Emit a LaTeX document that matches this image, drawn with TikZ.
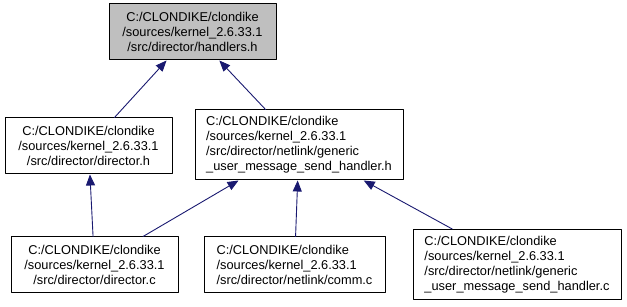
\documentclass[tikz,border=0pt]{standalone}
\usepackage{fontspec}
\setmainfont{Liberation Sans}
\usepackage{tikz}
\usetikzlibrary{arrows.meta}
\definecolor{EdgeBlue}{HTML}{191970}
\definecolor{FileGrey}{HTML}{BFBFBF}
\newcommand{\FileFont}{\fontsize{12.8}{15}\selectfont}

\begin{document}
\begin{tikzpicture}[line cap=round,line join=round,>={Triangle[length=11pt,width=9pt]}
  ,x=1pt,y=1pt
  ,file/.style={draw=black,line width=1pt,fill=white,inner sep=0pt
    ,minimum width=167pt,minimum height=56pt,font=\FileFont,align=center}
  ,dep/.style={->,draw=EdgeBlue,line width=0.9pt}]
  \useasboundingbox (0,0) rectangle (627,307);
  % headers
  \node[file,fill=FileGrey] (handlers) at (192.5,275)
    {C:/CLONDIKE/clondike\\/sources/kernel\_2.6.33.1\\/src/director/handlers.h};
  \node[file] (dirh) at (88.5,161)
    {C:/CLONDIKE/clondike\\/sources/kernel\_2.6.33.1\\/src/director/director.h};
  \node[file,align=left,minimum width=208pt,minimum height=70pt] (genh) at (299,162)
    {C:/CLONDIKE/clondike\\/sources/kernel\_2.6.33.1\\/src/director/netlink/generic\\\_user\_message\_send\_handler.h};
  % sources
  \node[file] (dirc) at (94.5,42)
    {C:/CLONDIKE/clondike\\/sources/kernel\_2.6.33.1\\/src/director/director.c};
  \node[file,align=left,minimum width=181pt] (commc) at (294.5,42)
    {C:/CLONDIKE/clondike\\/sources/kernel\_2.6.33.1\\/src/director/netlink/comm.c};
  \node[file,align=left,minimum width=208pt,minimum height=70pt] (genc) at (517,42.5)
    {C:/CLONDIKE/clondike\\/sources/kernel\_2.6.33.1\\/src/director/netlink/generic\\\_user\_message\_send\_handler.c};
  % include edges
  \draw[dep] (dirh) -- (handlers);
  \draw[dep] (genh) -- (handlers);
  \draw[dep] (dirc) -- (dirh);
  \draw[dep] (dirc) -- (genh);
  \draw[dep] (commc) -- (genh);
  \draw[dep] (genc) -- (genh);
\end{tikzpicture}
\end{document}
